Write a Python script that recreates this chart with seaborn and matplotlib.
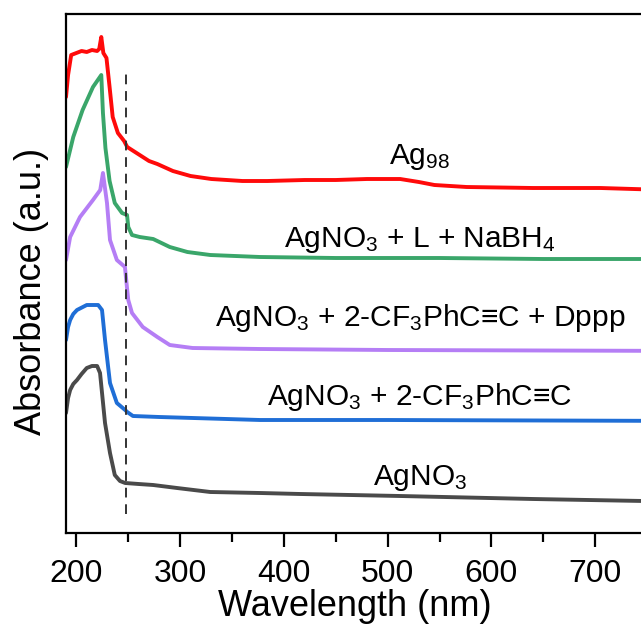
import matplotlib
matplotlib.use("Agg")
import matplotlib.pyplot as plt
import seaborn as sns
import numpy as np
from matplotlib.ticker import MultipleLocator

# ---- data (arbitrary absorbance units, stacked) ----
wl_ag98 = [190, 192, 195, 200, 205, 210, 215, 220, 222, 224, 226, 229, 232, 235, 240, 246, 249,
           258, 270, 278, 293, 310, 330, 360, 384, 420, 450, 480, 512, 530, 545, 576, 640, 705, 800]
ab_ag98 = [4.36, 4.58, 4.78, 4.80, 4.82, 4.81, 4.83, 4.82, 4.84, 4.96, 4.80, 4.75, 4.46, 4.16, 4.00, 3.92, 3.86,
           3.80, 3.72, 3.69, 3.62, 3.57, 3.54, 3.52, 3.52, 3.53, 3.53, 3.54, 3.54, 3.51, 3.48, 3.46, 3.45, 3.45, 3.42]

wl_green = [190, 197, 206, 216, 224, 225.6, 228, 232, 237, 244, 248.8, 250, 253.6, 261, 274, 290, 307,
            329, 377, 450, 550, 650, 800]
ab_green = [3.66, 3.96, 4.23, 4.46, 4.58, 4.20, 3.85, 3.52, 3.30, 3.20, 3.18, 3.06, 2.98, 2.96, 2.94, 2.86, 2.81,
            2.78, 2.76, 2.75, 2.75, 2.74, 2.74]

wl_purple = [190, 194, 203.5, 216, 223, 225.6, 229.5, 232.4, 239, 246.8, 249, 250, 253.6, 264, 278, 290, 312,
             377, 500, 800]
ab_purple = [2.73, 2.96, 3.16, 3.33, 3.43, 3.60, 3.30, 2.93, 2.73, 2.66, 2.43, 2.33, 2.20, 2.06, 1.96, 1.88, 1.85,
             1.84, 1.83, 1.82]

wl_blue = [190, 192, 194, 197, 200.6, 210, 221, 224.7, 227.6, 232.4, 239, 247, 249, 254.5, 280, 377, 500, 800]
ab_blue = [1.93, 2.06, 2.13, 2.19, 2.23, 2.28, 2.28, 2.23, 1.93, 1.50, 1.30, 1.23, 1.21, 1.17, 1.16, 1.13, 1.13, 1.12]

wl_agno3 = [190, 192, 194, 197, 200.6, 205, 210, 215, 220, 222.8, 227.6, 232.4, 237, 242, 247, 260, 274, 297, 329,
            377, 416, 512, 640, 800]
ab_agno3 = [1.20, 1.35, 1.43, 1.49, 1.53, 1.59, 1.65, 1.67, 1.67, 1.60, 1.10, 0.80, 0.58, 0.52, 0.50, 0.49, 0.48,
            0.45, 0.41, 0.40, 0.39, 0.37, 0.34, 0.31]

series = [
    (wl_ag98, ab_ag98, "#ff0a0a"),
    (wl_green, ab_green, "#3aa66a"),
    (wl_purple, ab_purple, "#b57ef5"),
    (wl_blue, ab_blue, "#1f6ed6"),
    (wl_agno3, ab_agno3, "#4a4a4a"),
]

labels = [r"Ag$_{98}$",
          r"AgNO$_3$ + L + NaBH$_4$",
          r"AgNO$_3$ + 2-CF$_3$PhC≡C + Dppp",
          r"AgNO$_3$ + 2-CF$_3$PhC≡C",
          r"AgNO$_3$"]
label_x = [531, 531, 531, 531, 531]
label_y = [3.76, 2.93, 2.15, 1.36, 0.55]

guide_x = 248
guide_y = (0.19, 4.65)

xticks = [200, 300, 400, 500, 600, 700]

# ---- style ----
sns.set_style("ticks")
plt.rcParams["font.family"] = ["Liberation Sans", "DejaVu Sans"]
plt.rcParams["mathtext.fontset"] = "custom"
plt.rcParams["mathtext.rm"] = "Liberation Sans"
plt.rcParams["mathtext.it"] = "Liberation Sans:italic"
plt.rcParams["mathtext.bf"] = "Liberation Sans:bold"
plt.rcParams["mathtext.default"] = "regular"
plt.rcParams["text.color"] = "black"
plt.rcParams["axes.labelcolor"] = "black"
plt.rcParams["xtick.color"] = "black"
plt.rcParams["xtick.labelcolor"] = "black"

fig = plt.figure(figsize=(6.41, 6.31), dpi=100)
ax = fig.add_axes([66 / 641, 98 / 631, 577 / 641, 519 / 631])

for wl, ab, col in series:
    sns.lineplot(x=wl, y=ab, color=col, linewidth=2.8, ax=ax, sort=False, estimator=None)

ax.vlines(guide_x, guide_y[0], guide_y[1], colors="#333333", linestyles=(0, (5, 3.5)), linewidth=1.4)

for txt, lx, ly in zip(labels, label_x, label_y):
    ax.text(lx, ly, txt, ha="center", va="center", fontsize=21.5, color="black")

ax.set_xlim(190, 746)
ax.set_ylim(0, 5.19)
ax.set_xticks(xticks)
ax.xaxis.set_minor_locator(MultipleLocator(50))
ax.set_yticks([])
ax.tick_params(axis="x", which="major", direction="out", length=10, width=1.6, labelsize=23, pad=9,
               colors="black")
ax.tick_params(axis="x", which="minor", direction="out", length=6.5, width=1.6, colors="black")
for s in ax.spines.values():
    s.set_linewidth(1.6)
    s.set_color("black")

ax.set_xlabel("Wavelength (nm)", fontsize=26, labelpad=0, color="black")
ax.set_ylabel("Absorbance (a.u.)", fontsize=26, color="black")
ax.yaxis.set_label_coords(-0.03, 0.465)

fig.savefig("out.png", dpi=100)
